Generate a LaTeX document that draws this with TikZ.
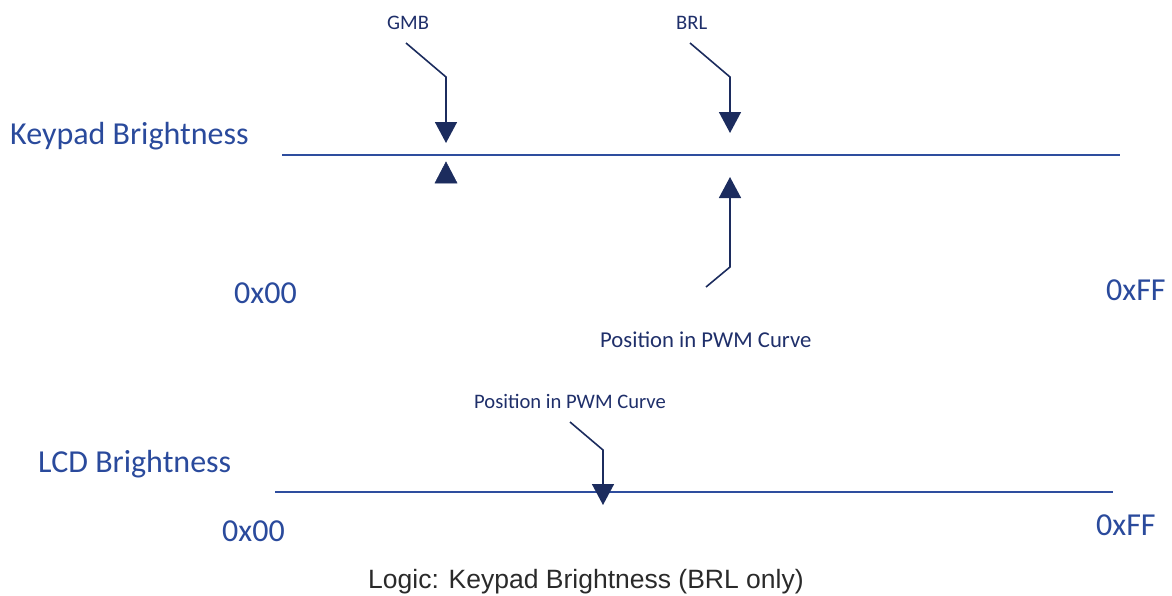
\documentclass[tikz,border=0pt]{standalone}
\usepackage{fontspec}
\setmainfont{Carlito}
\newfontfamily\capfont{Liberation Sans}
\usetikzlibrary{arrows.meta}
\definecolor{axisblue}{HTML}{2E4D9E}
\definecolor{titleblue}{HTML}{2A4A9C}
\definecolor{navy}{HTML}{1C2C5E}
\definecolor{labnavy}{HTML}{1F2F6A}
\definecolor{capgray}{HTML}{2A2A2A}
\tikzset{
  axisline/.style={draw=axisblue, line width=2.2pt},
  bigtext/.style={inner sep=0pt, text=titleblue, font=\fontsize{32}{38}\selectfont},
  smalltext/.style={inner sep=0pt, text=labnavy, font=\fontsize{20.6}{24}\selectfont},
  largelabel/.style={inner sep=0pt, text=labnavy, font=\fontsize{22.7}{27}\selectfont},
  captext/.style={inner sep=0pt, text=capgray, font=\capfont\fontsize{26.5}{32}\selectfont},
  pointer/.style={draw=navy, line width=1.6pt, -{Triangle[width=22pt,length=21pt]}, line join=miter},
  marker/.style={fill=navy, draw=navy, line width=0.5pt}
}
\begin{document}
\begin{tikzpicture}[x=1pt,y=-1pt]
\useasboundingbox (0,0) rectangle (1172,595);
% --- Keypad brightness scale
\node[bigtext, anchor=base west] (kb) at (10,144) {Keypad Brightness};
\coordinate (kL) at (282,155);
\coordinate (kR) at (1120,155);
\draw[axisline] (kL) -- (kR);
\node[bigtext, anchor=base west] (k00) at (234,303) {0x00};
\node[bigtext, anchor=base west] (kFF) at (1106,300) {0xFF};
% GMB
\node[smalltext, anchor=base west] (gmb) at (387,29) {GMB};
\coordinate (g1) at (406,43);
\coordinate (g2) at (446,77);
\coordinate (g3) at (446,143);
\draw[pointer] (g1) -- (g2) -- (g3);
\coordinate (gt) at (446,162);
\fill[marker] (gt) -- ++(11,21) -- ++(-22,0) -- cycle;
% BRL
\node[smalltext, anchor=base west] (brl) at (676,29) {BRL};
\coordinate (b1) at (690,43);
\coordinate (b2) at (730,77);
\coordinate (b3) at (730,133);
\draw[pointer] (b1) -- (b2) -- (b3);
% Position (upper)
\node[largelabel, anchor=base west] (pos1) at (600,347) {Position in PWM Curve};
\coordinate (p1) at (706,287);
\coordinate (p2) at (730,267);
\coordinate (p3) at (730,177);
\draw[pointer] (p1) -- (p2) -- (p3);
% --- LCD brightness scale
\node[bigtext, anchor=base west] (lcd) at (38,472) {LCD Brightness};
\coordinate (lL) at (275,492);
\coordinate (lR) at (1113,492);
\draw[axisline] (lL) -- (lR);
\node[bigtext, anchor=base west] (l00) at (222,541) {0x00};
\node[bigtext, anchor=base west] (lFF) at (1096,535) {0xFF};
\node[smalltext, anchor=base west] (pos2) at (474,408) {Position in PWM Curve};
\coordinate (q1) at (570,422);
\coordinate (q2) at (603,450);
\coordinate (q3) at (603,505);
\draw[pointer] (q1) -- (q2) -- (q3);
% caption
\node[captext, anchor=base west] (cap) at (368,588) {Logic: Keypad Brightness (BRL only)};
\end{tikzpicture}
\end{document}
